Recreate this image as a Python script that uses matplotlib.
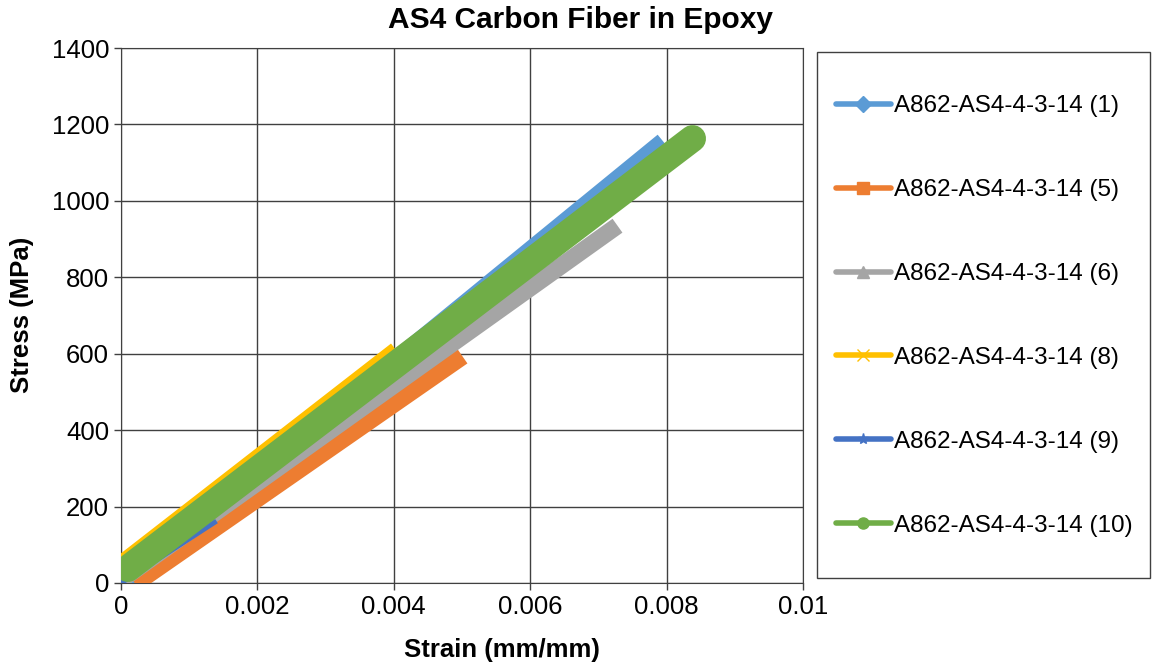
import matplotlib.pyplot as plt
from matplotlib.lines import Line2D
from matplotlib.patches import Rectangle

plt.rcParams["font.family"] = ["Liberation Sans", "DejaVu Sans"]

labels = [
    "A862-AS4-4-3-14 (1)",
    "A862-AS4-4-3-14 (5)",
    "A862-AS4-4-3-14 (6)",
    "A862-AS4-4-3-14 (8)",
    "A862-AS4-4-3-14 (9)",
    "A862-AS4-4-3-14 (10)",
]
colors = ["#5B9BD5", "#ED7D31", "#A5A5A5", "#FFC000", "#4472C4", "#70AD47"]
markers = ["D", "s", "^", "x", "*", "o"]

# strain (mm/mm), stress (MPa): first and last reading of each test
strain = [
    [0.0001, 0.00785],
    [0.0002, 0.00500],
    [0.0000, 0.00728],
    [0.0000, 0.00404],
    [0.0000, 0.00140],
    [0.0001, 0.00838],
]
stress = [
    [10, 1140],
    [0, 595],
    [8, 935],
    [48, 608],
    [0, 162],
    [38, 1163],
]
widths = [18, 19, 17, 18, 5, 27]
caps = ["projecting", "butt", "butt", "butt", "butt", "round"]

x_ticks = [0, 0.002, 0.004, 0.006, 0.008, 0.01]
x_tick_labels = ["0", "0.002", "0.004", "0.006", "0.008", "0.01"]
y_ticks = [0, 200, 400, 600, 800, 1000, 1200, 1400]

fig = plt.figure(figsize=(11.52, 6.68), dpi=100)
ax = fig.add_axes([121 / 1152, 1 - 583 / 668, 682 / 1152, 535 / 668])

for i in range(len(labels)):
    ax.plot(strain[i], stress[i], color=colors[i], lw=widths[i] * 0.72,
            solid_capstyle=caps[i], zorder=3 + i)

ax.set_xlim(0, 0.01)
ax.set_ylim(0, 1400)
ax.set_xticks(x_ticks)
ax.set_xticklabels(x_tick_labels)
ax.set_yticks(y_ticks)
ax.tick_params(labelsize=18.5, length=5, color="#404040", width=1)
ax.grid(True, color="#404040", lw=1)
ax.set_axisbelow(True)
for s in ax.spines.values():
    s.set_color("#404040")

fig.text(580 / 1152, 1 - 20 / 668, "AS4 Carbon Fiber in Epoxy", fontsize=21.5,
         fontweight="bold", ha="center", va="center")
fig.text(502 / 1152, 1 - 650 / 668, "Strain (mm/mm)", fontsize=18.5,
         fontweight="bold", ha="center", va="center")
fig.text(22 / 1152, 1 - 315 / 668, "Stress (MPa)", fontsize=18.5,
         fontweight="bold", ha="center", va="center", rotation=90)

fig.patches.append(Rectangle((817 / 1152, 1 - 578 / 668), 333 / 1152, 526 / 668,
                             transform=fig.transFigure, fill=False,
                             edgecolor="#404040", lw=1))

handles = [Line2D([0], [0], color=c, lw=4, marker=m, markersize=8,
                  markeredgecolor=c, markerfacecolor=c, solid_capstyle="round")
           for c, m in zip(colors, markers)]
fig.legend(handles, labels, loc="center left",
           bbox_to_anchor=(836 / 1152, 1 - 316 / 668), frameon=False,
           fontsize=17.5, labelspacing=2.55, handlelength=2.25,
           handletextpad=0.15, borderpad=0, borderaxespad=0)

fig.savefig("out.png", dpi=100)
